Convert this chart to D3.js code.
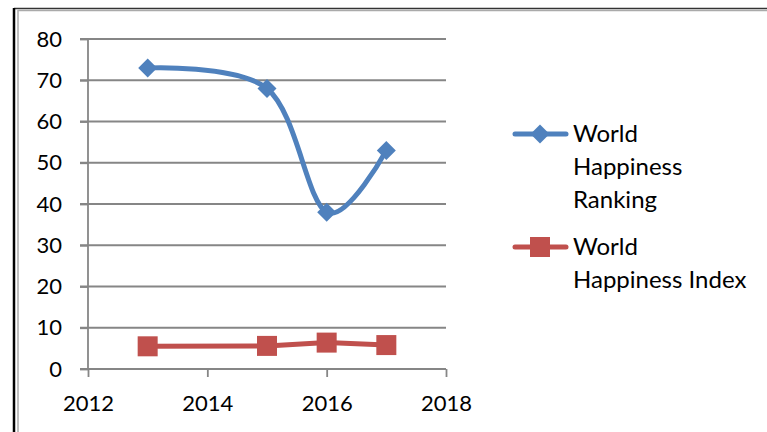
<!DOCTYPE html>
<html><head><meta charset="utf-8">
<script src="https://cdn.jsdelivr.net/npm/d3@7"></script>
<style>
html,body{margin:0;padding:0;background:#fff;}
svg{display:block;}
text{font-family:Lato,"Open Sans",sans-serif;fill:#000;}
</style></head>
<body>
<svg id="c" width="767" height="432"></svg>
<script>
const years = [2013, 2015, 2016, 2017];
const ranking = [73, 68, 38, 53];
const happinessIndex = [5.5, 5.6, 6.4, 5.8];
const yTicks = [0, 10, 20, 30, 40, 50, 60, 70, 80];
const xTicks = [2012, 2014, 2016, 2018];
const seriesNames = [["World", "Happiness", "Ranking"], ["World", "Happiness Index"]];

const svg = d3.select("#c");
const W = 767, H = 432;

// frame
svg.append("line").attr("x1",14).attr("y1",8.5).attr("x2",W).attr("y2",8.5).attr("stroke","#333").attr("stroke-width",1.5);
svg.append("line").attr("x1",14).attr("y1",8).attr("x2",14).attr("y2",H).attr("stroke","#000").attr("stroke-width",2.5);
svg.append("line").attr("x1",18).attr("y1",10.5).attr("x2",W).attr("y2",10.5).attr("stroke","#aaa").attr("stroke-width",1.5);
svg.append("line").attr("x1",18).attr("y1",10).attr("x2",18).attr("y2",H).attr("stroke","#aaa").attr("stroke-width",1.5);

const x = d3.scaleLinear().domain([2012, 2018]).range([88, 446]);
const y = d3.scaleLinear().domain([0, 80]).range([369, 39]);

// gridlines
svg.append("g").selectAll("line").data(yTicks.filter(d=>d>0)).join("line")
  .attr("x1", 80).attr("x2", 446).attr("y1", d=>y(d)).attr("y2", d=>y(d))
  .attr("stroke", "#868686").attr("stroke-width", 1.8);

// y axis
const yAxis = d3.axisLeft(y).tickValues(yTicks).tickSize(8).tickPadding(18).tickFormat(d3.format("d"));
const gy = svg.append("g").attr("transform","translate(88,0)").call(yAxis);
gy.select(".domain").attr("stroke","#868686").attr("stroke-width",1.8).attr("d","M0,"+y(0)+"V"+y(80));
gy.selectAll(".tick line").attr("stroke","#868686").attr("stroke-width",1.8);
gy.selectAll(".tick text").attr("font-size",22).attr("font-family","Lato").attr("fill","#000").attr("x",-26);

// x axis
const xAxis = d3.axisBottom(x).tickValues(xTicks).tickSize(8).tickPadding(18).tickFormat(d3.format("d"));
const gx = svg.append("g").attr("transform","translate(0,369)").call(xAxis);
gx.select(".domain").attr("stroke","#868686").attr("stroke-width",1.8).attr("d","M80,0H446");
gx.selectAll(".tick line").attr("stroke","#868686").attr("stroke-width",1.8);
gx.selectAll(".tick text").attr("font-size",22).attr("font-family","Lato").attr("fill","#000");

const blue = "#4F81BD", red = "#C0504D";

// ranking line (smoothed)
const rPts = years.map((d,i)=>[x(d), y(ranking[i])]);
svg.append("path").attr("d", d3.line().curve(d3.curveCardinal.tension(0))(rPts))
  .attr("fill","none").attr("stroke",blue).attr("stroke-width",5).attr("stroke-linejoin","round").attr("stroke-linecap","round");
const diamond = s => `M0,${-s}L${s},0L0,${s}L${-s},0Z`;
svg.append("g").selectAll("path").data(rPts).join("path")
  .attr("transform", d=>`translate(${d[0]},${d[1]})`).attr("d", diamond(9.5)).attr("fill", blue);

// index line
const iPts = years.map((d,i)=>[x(d), y(happinessIndex[i])]);
svg.append("path").attr("d", d3.line()(iPts))
  .attr("fill","none").attr("stroke",red).attr("stroke-width",5).attr("stroke-linejoin","round").attr("stroke-linecap","round");
svg.append("g").selectAll("rect").data(iPts).join("rect")
  .attr("x", d=>d[0]-10).attr("y", d=>d[1]-10).attr("width",20).attr("height",20).attr("fill", red);

// legend
const legY = [134, 247];
const colors = [blue, red];
seriesNames.forEach((lines, i) => {
  const g = svg.append("g").attr("transform", `translate(0,${legY[i]})`);
  g.append("line").attr("x1",515).attr("x2",566).attr("y1",0).attr("y2",0)
    .attr("stroke",colors[i]).attr("stroke-width",5).attr("stroke-linecap","round");
  if (i === 0) g.append("path").attr("transform","translate(540,0)").attr("d", diamond(9.5)).attr("fill", blue);
  else g.append("rect").attr("x",530).attr("y",-10).attr("width",20).attr("height",20).attr("fill", red);
  lines.forEach((t, j) => {
    g.append("text").attr("x", 573).attr("y", j*33).attr("dy","0.35em").attr("font-size",24).text(t);
  });
});
</script>
</body></html>
